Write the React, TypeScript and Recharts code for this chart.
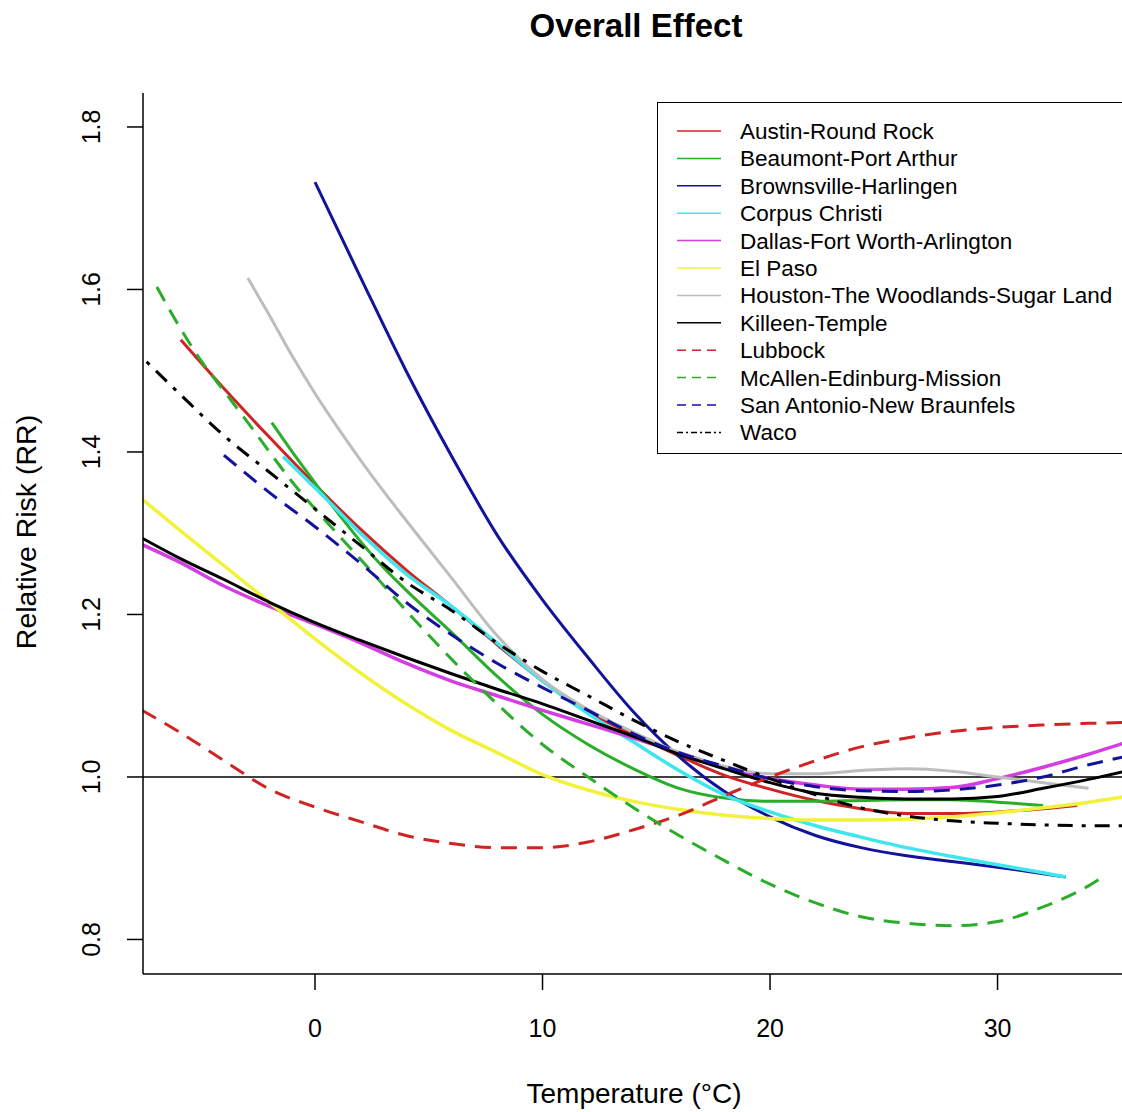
import { LineChart, Line, XAxis, YAxis, ReferenceLine } from 'recharts'

// temperature (°C) and relative risk, one pair of arrays per city
const austinT = [-5.9, -4, -2, 0, 2, 4, 6, 8, 10, 12, 14, 16, 18, 20, 22, 24, 26, 28, 30, 32, 33.5]
const austinRR = [1.538, 1.478, 1.418, 1.36, 1.305, 1.255, 1.21, 1.163, 1.118, 1.08, 1.052, 1.026, 1.002, 0.985, 0.971, 0.961, 0.955, 0.955, 0.957, 0.961, 0.965]

const beaumontT = [-1.9, -1, 0, 1, 2, 3, 4, 6, 8, 10, 12, 14, 16, 18, 20, 22, 24, 26, 28, 30, 32]
const beaumontRR = [1.436, 1.4, 1.362, 1.325, 1.29, 1.258, 1.23, 1.178, 1.124, 1.077, 1.04, 1.01, 0.986, 0.974, 0.97, 0.97, 0.971, 0.972, 0.972, 0.969, 0.965]

const brownsvilleT = [0, 2, 4, 6, 8, 10, 12, 14, 16, 18, 20, 22, 24, 26, 28, 30, 32, 33]
const brownsvilleRR = [1.732, 1.615, 1.5, 1.395, 1.298, 1.218, 1.147, 1.08, 1.025, 0.982, 0.951, 0.928, 0.913, 0.903, 0.896, 0.889, 0.881, 0.877]

const corpusT = [-1.4, 0, 2, 4, 6, 8, 10, 12, 14, 16, 18, 20, 22, 24, 26, 28, 30, 32, 33]
const corpusRR = [1.394, 1.356, 1.3, 1.25, 1.21, 1.165, 1.118, 1.078, 1.043, 1.008, 0.978, 0.957, 0.94, 0.926, 0.913, 0.902, 0.892, 0.882, 0.877]

const dallasT = [-7.6, -6, -4, -2, 0, 2, 4, 6, 8, 10, 12, 14, 16, 18, 20, 22, 24, 26, 28, 30, 32, 34, 35.6]
const dallasRR = [1.286, 1.265, 1.235, 1.21, 1.188, 1.165, 1.14, 1.118, 1.1, 1.082, 1.065, 1.048, 1.03, 1.012, 0.998, 0.99, 0.985, 0.985, 0.987, 0.998, 1.012, 1.028, 1.042]

const elPasoT = [-7.6, -6, -4, -2, 0, 2, 4, 6, 8, 10, 12, 14, 16, 18, 20, 22, 24, 26, 28, 30, 32, 34, 35.6]
const elPasoRR = [1.342, 1.305, 1.26, 1.215, 1.17, 1.128, 1.09, 1.057, 1.03, 1.003, 0.984, 0.97, 0.96, 0.953, 0.949, 0.947, 0.947, 0.948, 0.951, 0.956, 0.962, 0.969, 0.976]

const houstonT = [-2.95, -2, -1, 0, 1, 2, 3, 4, 6, 8, 10, 12, 14, 16, 18, 20, 22, 24, 26, 28, 30, 32, 34]
const houstonRR = [1.614, 1.568, 1.518, 1.472, 1.43, 1.39, 1.352, 1.316, 1.245, 1.174, 1.12, 1.083, 1.055, 1.03, 1.013, 1.004, 1.004, 1.008, 1.01, 1.007, 1.0, 0.993, 0.986]

const killeenT = [-7.6, -6, -4, -2, 0, 2, 4, 6, 8, 10, 12, 14, 16, 18, 20, 22, 24, 26, 28, 30, 32, 34, 35.6]
const killeenRR = [1.294, 1.27, 1.243, 1.215, 1.19, 1.168, 1.147, 1.127, 1.108, 1.09, 1.07, 1.05, 1.028, 1.01, 0.993, 0.98, 0.975, 0.973, 0.973, 0.976, 0.986, 0.997, 1.007]

const lubbockT = [-7.6, -6, -4, -2, 0, 2, 4, 6, 8, 10, 12, 14, 16, 18, 20, 22, 24, 26, 28, 30, 32, 34, 35.6]
const lubbockRR = [1.082, 1.056, 1.02, 0.985, 0.963, 0.945, 0.928, 0.918, 0.913, 0.913, 0.92, 0.935, 0.953, 0.977, 1.0, 1.02, 1.037, 1.048, 1.056, 1.061, 1.064, 1.066, 1.067]

const mcallenT = [-6.95, -6, -5, -4, -3, -2, -1, 0, 2, 4, 6, 8, 10, 12, 14, 16, 18, 20, 22, 24, 26, 28, 30, 32, 34, 34.8]
const mcallenRR = [1.603, 1.556, 1.512, 1.475, 1.438, 1.4, 1.363, 1.33, 1.268, 1.205, 1.145, 1.09, 1.04, 1.0, 0.962, 0.928, 0.897, 0.868, 0.845, 0.828, 0.82, 0.817, 0.822, 0.84, 0.866, 0.88]

const sanAntonioT = [-4, -2, 0, 2, 4, 6, 8, 10, 12, 14, 16, 18, 20, 22, 24, 26, 28, 30, 32, 34, 35.6]
const sanAntonioRR = [1.396, 1.35, 1.308, 1.263, 1.215, 1.175, 1.14, 1.11, 1.082, 1.053, 1.03, 1.013, 0.998, 0.988, 0.983, 0.982, 0.984, 0.99, 1.0, 1.015, 1.025]

const wacoT = [-7.4, -6, -4, -2, 0, 2, 4, 6, 8, 10, 12, 14, 16, 18, 20, 22, 24, 26, 28, 30, 32, 34, 35.6]
const wacoRR = [1.511, 1.473, 1.42, 1.375, 1.33, 1.285, 1.24, 1.205, 1.165, 1.13, 1.1, 1.07, 1.043, 1.02, 0.998, 0.978, 0.962, 0.952, 0.946, 0.943, 0.941, 0.94, 0.94]

const xTicks = [0, 10, 20, 30]
const yTicks = [0.8, 1.0, 1.2, 1.4, 1.6, 1.8]

const FONT = '"Liberation Sans", Arial, sans-serif'
const DASHED = '16 10'
const DOTDASH = '4 9 15 9'

const pts = (t: number[], rr: number[]) => t.map((x, i) => ({ t: x, rr: rr[i] }))

const series = [
  { name: 'Austin-Round Rock', color: '#d02424', dash: undefined, w: 3, data: pts(austinT, austinRR) },
  { name: 'Beaumont-Port Arthur', color: '#2aad2a', dash: undefined, w: 3, data: pts(beaumontT, beaumontRR) },
  { name: 'Brownsville-Harlingen', color: '#12129a', dash: undefined, w: 3, data: pts(brownsvilleT, brownsvilleRR) },
  { name: 'Corpus Christi', color: '#3ee6ee', dash: undefined, w: 3.5, data: pts(corpusT, corpusRR) },
  { name: 'Dallas-Fort Worth-Arlington', color: '#d23ee0', dash: undefined, w: 3.5, data: pts(dallasT, dallasRR) },
  { name: 'El Paso', color: '#f2f23a', dash: undefined, w: 3.5, data: pts(elPasoT, elPasoRR) },
  { name: 'Houston-The Woodlands-Sugar Land', color: '#bdbdbd', dash: undefined, w: 3, data: pts(houstonT, houstonRR) },
  { name: 'Killeen-Temple', color: '#000000', dash: undefined, w: 3, data: pts(killeenT, killeenRR) },
  { name: 'Lubbock', color: '#d02424', dash: DASHED, w: 3, data: pts(lubbockT, lubbockRR) },
  { name: 'McAllen-Edinburg-Mission', color: '#2aad2a', dash: DASHED, w: 3, data: pts(mcallenT, mcallenRR) },
  { name: 'San Antonio-New Braunfels', color: '#12129a', dash: DASHED, w: 3, data: pts(sanAntonioT, sanAntonioRR) },
  { name: 'Waco', color: '#000000', dash: DOTDASH, w: 3, data: pts(wacoT, wacoRR) },
]

const XTick = (props: any) => {
  const { x, payload } = props
  return (
    <text x={x} y={1037} textAnchor="middle" fontFamily={FONT} fontSize={25} fill="#000">
      {payload.value}
    </text>
  )
}

const YTick = (props: any) => {
  const { y, payload } = props
  return (
    <text
      x={100}
      y={y}
      transform={`rotate(-90 100 ${y})`}
      textAnchor="middle"
      fontFamily={FONT}
      fontSize={25}
      fill="#000"
    >
      {Number(payload.value).toFixed(1)}
    </text>
  )
}

function LegendBox() {
  const legendDash = (d?: string) => (d === DASHED ? '9 6' : d === DOTDASH ? '6 3 2 3' : undefined)
  return (
    <div
      style={{
        position: 'absolute',
        left: 657,
        top: 102,
        width: 500,
        height: 352,
        border: '1.5px solid #000',
        background: '#fff',
        boxSizing: 'border-box',
      }}
    >
      <svg width={500} height={350} style={{ display: 'block' }}>
        {series.map((s, i) => {
          const cy = 28 + i * 27.4
          return (
            <g key={s.name}>
              <line x1={19} x2={63} y1={cy} y2={cy} stroke={s.color} strokeWidth={1.5} strokeDasharray={legendDash(s.dash)} />
              <text x={82} y={cy + 8} fontFamily={FONT} fontSize={22.5} fill="#000">
                {s.name}
              </text>
            </g>
          )
        })}
      </svg>
    </div>
  )
}

export default function App() {
  return (
    <div style={{ position: 'absolute', left: 0, top: 0, width: 1122, height: 1112, overflow: 'hidden', background: '#fff' }}>
      <LineChart width={1122} height={1112} margin={{ top: 93, right: 0, bottom: 0, left: 0 }}>
        <XAxis
          type="number"
          dataKey="t"
          domain={[-7.56, 35.47]}
          allowDataOverflow
          ticks={xTicks}
          interval={0}
          height={138}
          tickSize={16}
          tick={<XTick />}
          axisLine={{ stroke: '#000', strokeWidth: 1.5 }}
          tickLine={{ stroke: '#000', strokeWidth: 1.5 }}
        />
        <YAxis
          type="number"
          domain={[0.7575, 1.8418]}
          allowDataOverflow
          ticks={yTicks}
          interval={0}
          width={143}
          tickSize={16}
          tick={<YTick />}
          axisLine={{ stroke: '#000', strokeWidth: 1.5 }}
          tickLine={{ stroke: '#000', strokeWidth: 1.5 }}
        />
        <ReferenceLine y={1} stroke="#000" strokeWidth={1.5} />
        {series.map((s) => (
          <Line
            key={s.name}
            data={s.data}
            dataKey="rr"
            name={s.name}
            type="monotone"
            stroke={s.color}
            strokeWidth={s.w}
            strokeDasharray={s.dash}
            dot={false}
            activeDot={false}
            isAnimationActive={false}
          />
        ))}
      </LineChart>

      <svg width={1122} height={1112} style={{ position: 'absolute', left: 0, top: 0, pointerEvents: 'none' }}>
        <text x={636} y={37} textAnchor="middle" fontFamily={FONT} fontSize={33} fontWeight="bold" fill="#000">
          Overall Effect
        </text>
        <text x={634} y={1103} textAnchor="middle" fontFamily={FONT} fontSize={28} fill="#000">
          Temperature (°C)
        </text>
        <text x={36} y={532} transform="rotate(-90 36 532)" textAnchor="middle" fontFamily={FONT} fontSize={28.5} fill="#000">
          Relative Risk (RR)
        </text>
      </svg>

      <LegendBox />
    </div>
  )
}
